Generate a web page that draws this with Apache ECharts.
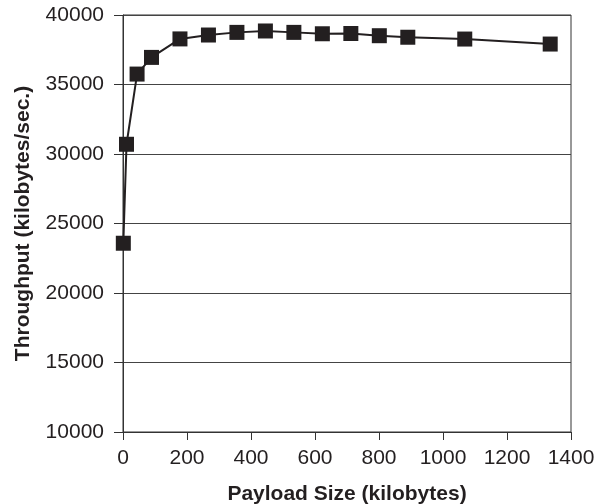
<!DOCTYPE html>
<html>
<head>
<meta charset="utf-8">
<script src="https://cdn.jsdelivr.net/npm/echarts@6/dist/echarts.min.js"></script>
<style>html,body{margin:0;padding:0;background:#fff}#c{width:599px;height:504px}</style>
</head>
<body>
<div id="c"></div>
<script>
const payloadSizes = [1, 11, 44, 89, 178, 267, 356, 445, 534, 623, 712, 801, 890, 1068, 1335];
const throughput = [23580, 30700, 35750, 36950, 38280, 38560, 38750, 38850, 38750, 38650, 38670, 38510, 38400, 38270, 37910];
const xTicks = [0, 200, 400, 600, 800, 1000, 1200, 1400];
const yTicks = [10000, 15000, 20000, 25000, 30000, 35000, 40000];

const chart = echarts.init(document.getElementById('c'), null, {renderer: 'canvas'});
const font = 'Liberation Sans, Arial, sans-serif';
chart.setOption({
  animation: false,
  grid: {left: 123, right: 28, top: 15, bottom: 72, show: true, borderColor: '#333', borderWidth: 1,
         containLabel: false, outerBoundsMode: 'none'},
  xAxis: {
    type: 'value', min: xTicks[0], max: xTicks[xTicks.length - 1], interval: 200,
    name: 'Payload Size (kilobytes)', nameLocation: 'middle', nameGap: 52,
    nameTextStyle: {fontFamily: font, fontWeight: 'bold', fontSize: 21, color: '#231f20'},
    axisLine: {show: true, lineStyle: {color: '#333', width: 1}},
    axisTick: {show: true, inside: false, length: 8, lineStyle: {color: '#333'}},
    axisLabel: {fontFamily: font, fontSize: 21, color: '#231f20', margin: 16, formatter: v => String(v)},
    splitLine: {show: false}
  },
  yAxis: {
    type: 'value', min: yTicks[0], max: yTicks[yTicks.length - 1], interval: 5000,
    name: 'Throughput (kilobytes/sec.)', nameLocation: 'middle', nameGap: 89,
    nameTextStyle: {fontFamily: font, fontWeight: 'bold', fontSize: 21, color: '#231f20'},
    axisLine: {show: true, lineStyle: {color: '#333', width: 1}},
    axisTick: {show: true, inside: false, length: 9, lineStyle: {color: '#333'}},
    axisLabel: {fontFamily: font, fontSize: 21, color: '#231f20', margin: 19, formatter: v => String(v)},
    splitLine: {show: true, lineStyle: {color: '#444', width: 1}}
  },
  series: [{
    type: 'line',
    data: payloadSizes.map((x, i) => [x, throughput[i]]),
    symbol: 'rect', symbolSize: 15,
    itemStyle: {color: '#231f20'},
    lineStyle: {color: '#231f20', width: 2}
  }]
});
</script>
</body>
</html>
